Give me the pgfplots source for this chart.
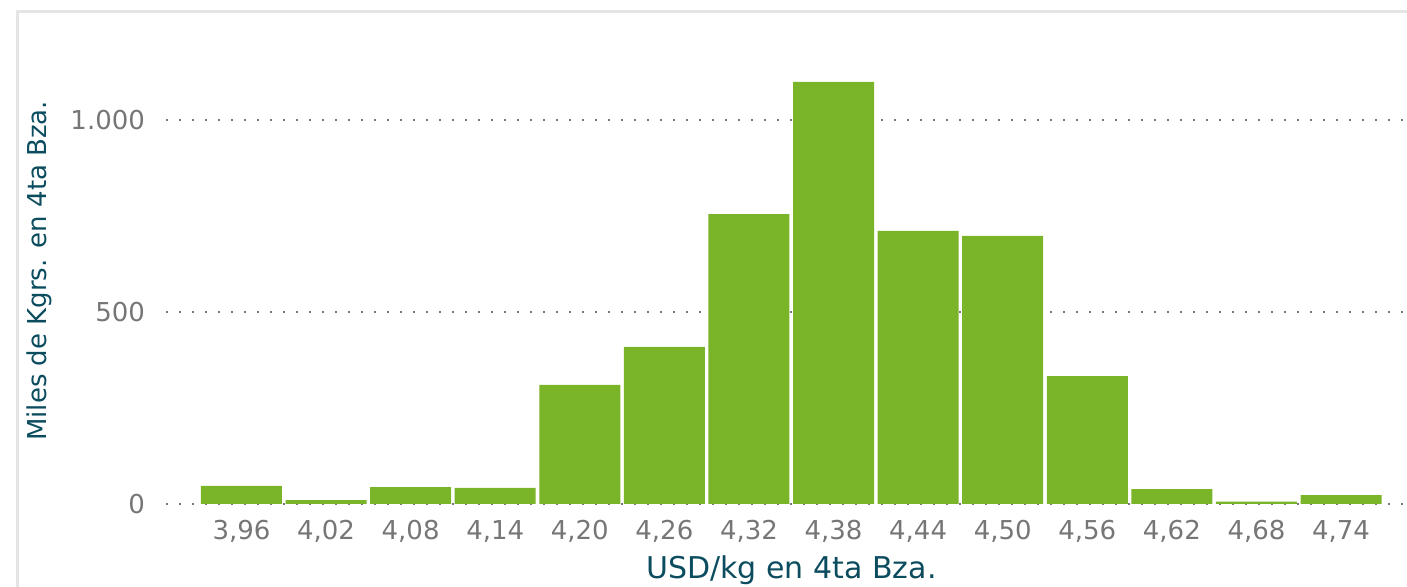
\documentclass[border=0pt]{standalone}
\usepackage{fontspec}
\setmainfont{DejaVu Sans}
\usepackage{pgfplots}
\pgfplotsset{compat=1.18}
\definecolor{bargreen}{RGB}{121,180,41}
\definecolor{labteal}{RGB}{11,76,94}
\definecolor{tickgray}{RGB}{118,118,118}
\definecolor{framegray}{RGB}{229,229,229}
\begin{document}
\begin{tikzpicture}
\useasboundingbox (0pt,0pt) rectangle (703.5pt,293.5pt);
\clip (0pt,0pt) rectangle (703.5pt,293.5pt);
\draw[framegray, line width=1.5pt] (8.5pt,-10pt) -- (8.5pt,287.5pt) -- (715pt,287.5pt);
\begin{axis}[
  at={(83pt,41.5pt)}, anchor=south west,
  scale only axis,
  width=620.5pt, height=220.8pt,
  xmin=-0.892, xmax=13.78,
  ymin=0, ymax=1150,
  axis line style={draw=none},
  tick style={draw=none},
  major tick length=0pt,
  xtick={0,...,13},
  xticklabels={{3,96},{4,02},{4,08},{4,14},{4,20},{4,26},{4,32},{4,38},{4,44},{4,50},{4,56},{4,62},{4,68},{4,74}},
  ytick={0,500,1000},
  ymajorgrids,
  grid style={tickgray, line width=1pt, dash pattern=on 1pt off 5.5pt},
  /pgf/number format/.cd, 1000 sep={.}, assume math mode=true,
  /pgfplots/.cd,
  tick label style={font=\fontsize{13pt}{15pt}\selectfont, text=tickgray},
  y tick label style={anchor=east, xshift=-7pt},
  x tick label style={anchor=north, yshift=-4.5pt},
  xlabel={USD/kg en 4ta Bza.},
  ylabel={Miles de Kgrs. en 4ta Bza.},
  xlabel style={font=\fontsize{15pt}{18pt}\selectfont, text=labteal, at={(axis description cs:0.504,-0.1698)}, anchor=base},
  ylabel style={font=\fontsize{13pt}{16pt}\selectfont, text=labteal, at={(axis description cs:-0.1023,0.528)}, anchor=center},
]
\addplot[ybar, bar width=40.5pt, fill=bargreen, draw=none] coordinates {
(0,47) (1,10) (2,44) (3,42) (4,310) (5,409) (6,755) (7,1099) (8,711) (9,698) (10,333) (11,39) (12,6) (13,23)
};
\end{axis}
\end{tikzpicture}
\end{document}
